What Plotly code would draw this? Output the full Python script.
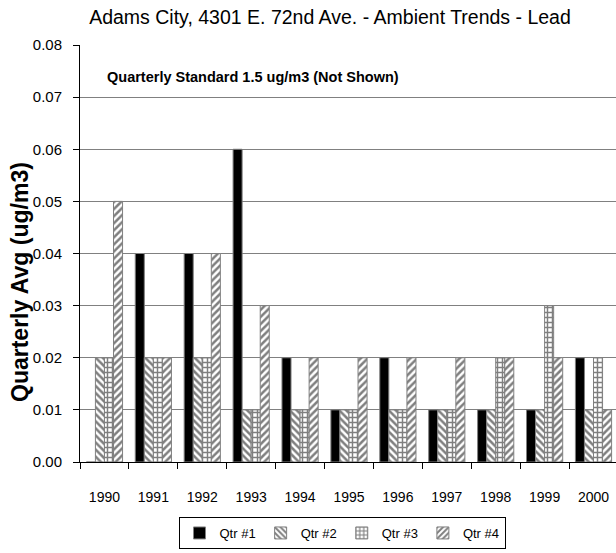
import plotly.graph_objects as go

years = ["1990", "1991", "1992", "1993", "1994", "1995", "1996", "1997", "1998", "1999", "2000"]
qtr1 = [0.00, 0.04, 0.04, 0.06, 0.02, 0.01, 0.02, 0.01, 0.01, 0.01, 0.02]
qtr2 = [0.02, 0.02, 0.02, 0.01, 0.01, 0.01, 0.01, 0.01, 0.01, 0.01, 0.01]
qtr3 = [0.02, 0.02, 0.02, 0.01, 0.01, 0.01, 0.01, 0.01, 0.02, 0.03, 0.02]
qtr4 = [0.05, 0.02, 0.04, 0.03, 0.02, 0.02, 0.02, 0.02, 0.02, 0.02, 0.01]
y_ticks = [0.00, 0.01, 0.02, 0.03, 0.04, 0.05, 0.06, 0.07, 0.08]

FONT = "Liberation Sans, Arial, sans-serif"

series = [
    ("Qtr #1", qtr1, ""),
    ("Qtr #2", qtr2, "\\"),
    ("Qtr #3", qtr3, "+"),
    ("Qtr #4", qtr4, "/"),
]

fig = go.Figure()
for name, vals, shape in series:
    if shape == "":
        marker = dict(color="black", line=dict(color="#808080", width=1))
    else:
        marker = dict(
            color="white",
            line=dict(color="#808080", width=1),
            pattern=dict(shape=shape, fgcolor="black", bgcolor="white",
                         size=5, solidity=0.5, fillmode="overlay"),
        )
    fig.add_trace(go.Bar(x=years, y=vals, name=name, marker=marker))

W, H = 616, 553
PW, PH = 536, 417
fig.update_layout(
    width=W, height=H,
    margin=dict(l=80, r=W - 80 - PW, t=45, b=H - 45 - PH),
    paper_bgcolor="white", plot_bgcolor="white",
    barmode="group", bargap=0.26, bargroupgap=0,
    font=dict(family=FONT, color="black"),
    title=dict(text="Adams City, 4301 E. 72nd Ave. - Ambient Trends - Lead",
               font=dict(size=19.5, family=FONT, color="black"),
               x=330/W, xanchor="center", xref="container",
               y=1 - 17/H, yanchor="middle", yref="container"),
    legend=dict(orientation="h", x=(342-80)/PW, xanchor="center",
                y=(462-517)/PH, yanchor="top",
                bordercolor="black", borderwidth=1,
                font=dict(size=13, family=FONT, color="black"),
                itemwidth=30, tracegroupgap=0),
    showlegend=True,
)

fig.update_xaxes(
    type="category", showline=True, linecolor="black", linewidth=1,
    ticks="outside", tickson="boundaries", ticklen=6, tickcolor="black",
    tickfont=dict(size=14, family=FONT, color="black"),
    ticklabelstandoff=22, showgrid=False, range=[-0.5, 10.46],
)
fig.update_yaxes(
    range=[0, 0.08], tickvals=y_ticks, tickformat=".2f",
    showline=True, linecolor="black", linewidth=1,
    ticks="outside", ticklen=6, tickcolor="black",
    tickfont=dict(size=15, family=FONT, color="black"),
    ticklabelstandoff=8,
    showgrid=True, gridcolor="#808080", gridwidth=1, zeroline=False,
)

fig.add_annotation(
    text="<b>Quarterly Avg (ug/m3)</b>", textangle=-90,
    xref="paper", yref="paper", x=(20-80)/PW, y=(462-282)/PH,
    xanchor="center", yanchor="middle", showarrow=False,
    font=dict(size=23, family=FONT, color="black"),
)

fig.add_annotation(
    text="<b>Quarterly Standard 1.5 ug/m3 (Not Shown)</b>",
    xref="paper", yref="paper", x=(105-80)/PW, y=(462-77)/PH,
    xanchor="left", yanchor="middle", showarrow=False,
    font=dict(size=14.5, family=FONT, color="black"),
)

fig.write_html("out.html",
               config={"displayModeBar": False, "responsive": False},
               post_script="document.body.style.margin='0';")
